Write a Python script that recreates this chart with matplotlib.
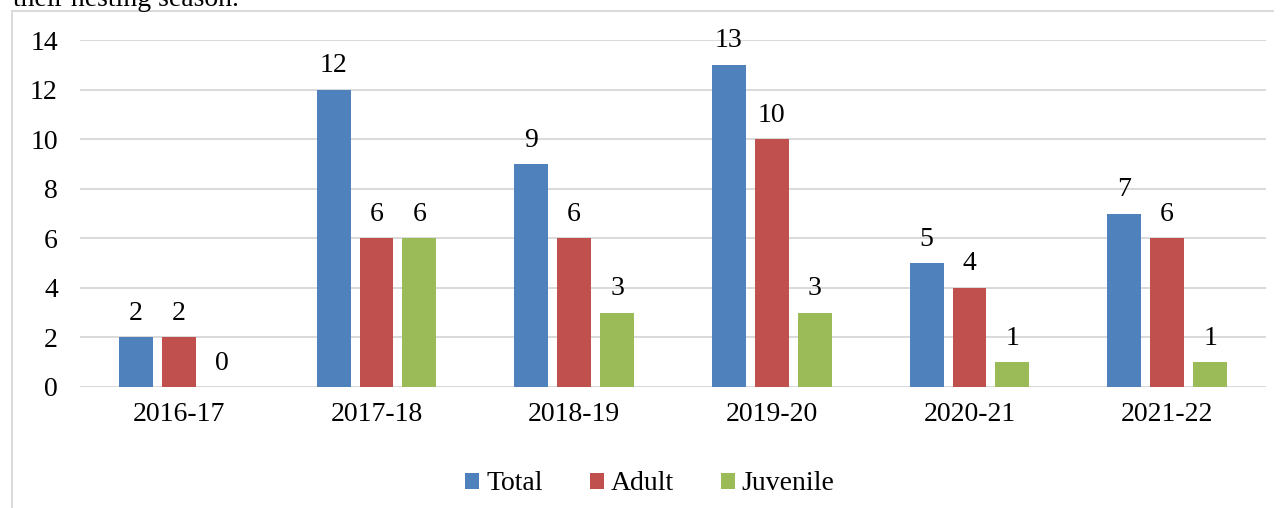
import numpy as np
import matplotlib.pyplot as plt
from matplotlib.patches import Patch
from matplotlib.lines import Line2D

# Datos por temporada
seasons = ["2016-17", "2017-18", "2018-19", "2019-20", "2020-21", "2021-22"]
total = [2, 12, 9, 13, 5, 7]
adult = [2, 6, 6, 10, 4, 6]
juvenile = [0, 6, 3, 3, 1, 1]

series_names = ["Total", "Adult", "Juvenile"]
colors = ["#4F81BD", "#C0504D", "#9BBB59"]
grid_color = "#D9D9D9"

plt.rcParams['font.family'] = ['Liberation Serif', 'DejaVu Serif']
fs = 20

fig = plt.figure(figsize=(12.82, 5.08), dpi=100)
W, H = 1282, 508
ax = fig.add_axes([80 / W, 1 - 387 / H, (1266 - 80) / W, (387 - 40) / H])

x = np.arange(len(seasons))
step = 0.2175
width = 0.172
for i, (vals, name, c) in enumerate(zip([total, adult, juvenile], series_names, colors)):
    pos = x + (i - 1) * step
    ax.bar(pos, vals, width=width, color=c, zorder=3)
    for xp, v in zip(pos, vals):
        ax.annotate(str(v), (xp, v), xytext=(0, 12.5), textcoords='offset points',
                    ha='center', va='baseline', fontsize=fs)

ax.set_xlim(-0.5, len(seasons) - 0.5)
ax.set_ylim(0, 14)
ax.set_yticks(range(0, 15, 2))
ax.set_xticks(x)
ax.set_xticklabels(seasons)
ax.tick_params(axis='both', length=0, labelsize=fs)
ax.tick_params(axis='y', pad=16)
ax.tick_params(axis='x', pad=11)
ax.yaxis.grid(True, color=grid_color, linewidth=1.4, zorder=0)
ax.set_axisbelow(True)
for s in ax.spines.values():
    s.set_visible(False)
ax.axhline(0, color=grid_color, linewidth=1.4, zorder=1)

# Leyenda
handles = [Patch(facecolor=c, edgecolor='none', label=n) for c, n in zip(colors, series_names)]
fig.legend(handles=handles, loc='center', bbox_to_anchor=(650 / W, 1 - 484 / H),
           ncol=3, frameon=False, fontsize=fs, handlelength=0.5, handleheight=0.5,
           handletextpad=0.25, columnspacing=1.7)

# Marco del gráfico (arriba e izquierda)
fig.add_artist(Line2D([11.5 / W, 1273 / W], [1 - 10.5 / H, 1 - 10.5 / H],
                      color=grid_color, linewidth=1.4, transform=fig.transFigure))
fig.add_artist(Line2D([11.5 / W, 11.5 / W], [1 - 10.5 / H, 0],
                      color=grid_color, linewidth=1.4, transform=fig.transFigure))

# Texto del documento que queda cortado arriba
fig.text(13 / W, 1 - 6 / H, "their nesting season.", fontsize=fs, va='baseline', ha='left')

fig.savefig("out.png", dpi=100)
